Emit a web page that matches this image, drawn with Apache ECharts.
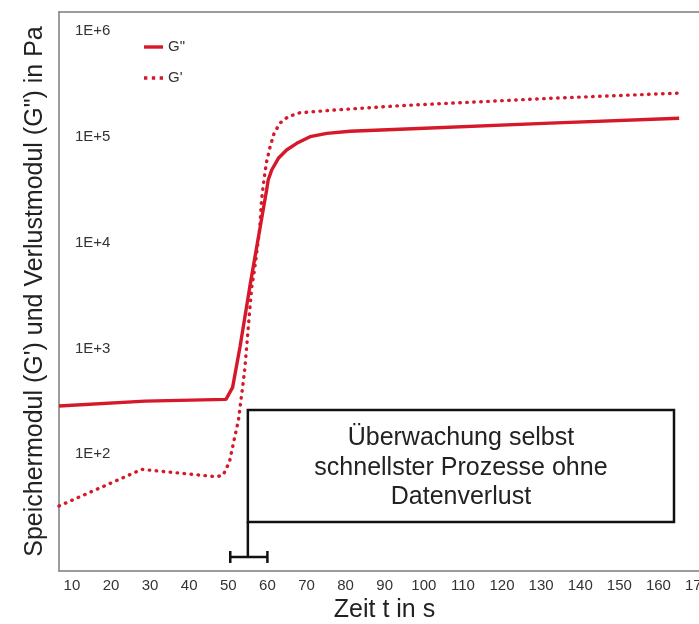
<!DOCTYPE html>
<html><head><meta charset="utf-8">
<script src="https://cdn.jsdelivr.net/npm/echarts@6/dist/echarts.min.js"></script>
<style>html,body{margin:0;padding:0;background:#fff}#c{width:699px;height:624px}</style>
</head><body><div id="c"></div>
<script>
// ---- data ----
const seriesNames = ['G"', "G'"];
// Verlustmodul G" (solid)
const timeLoss = [6.7, 28.7, 49.4, 51.1, 53.0, 55.5, 59.8, 60.2, 61.1, 62.8, 64.9, 67.5, 70.9, 75.2, 81.1, 93.9, 132.3, 165.3];
const gLoss    = [286, 318, 330, 429, 1038, 3830, 31300, 38900, 48400, 62400, 74700, 86400, 99800, 107400, 112200, 117500, 134000, 149000];
// Speichermodul G' (dotted)
const timeStorage = [6.7, 27.9, 47.0, 48.7, 49.2, 50.3, 51.3, 52.6, 53.4, 54.1, 54.7, 55.4, 56.0, 56.7, 58.0, 58.5, 59.1, 59.8, 60.7, 61.7, 63.2, 65.3, 68.3, 76.9, 93.9, 132.3, 165.7];
const gStorage    = [32.5, 72.1, 61.4, 63.7, 66.2, 85, 127, 211, 363, 582, 1037, 2140, 3830, 5500, 13100, 25200, 38900, 58000, 80300, 107000, 134000, 154000, 168000, 178000, 196000, 230000, 258000];
const xTickLabels = [10, 20, 30, 40, 50, 60, 70, 80, 90, 100, 110, 120, 130, 140, 150, 160, 170];
const yTickExponents = [2, 3, 4, 5, 6];
const noteLines = ['Überwachung selbst', 'schnellster Prozesse ohne', 'Datenverlust'];
const bracketRange = [50.5, 60];   // s
const bracketStem = 55;            // s

// ---- chart ----
const FONT = "'Liberation Sans', Arial, sans-serif";
const RED = '#d6182b';
const AXIS = '#7c7c7c';
const X_MIN = 6.7, X_MAX = 170.38;
const chart = echarts.init(document.getElementById('c'), null, {renderer: 'canvas'});

const zip = (xs, ys) => xs.map((x, i) => [x, ys[i]]);
const dotIcon = 'path://M0,0h3v3h-3z M7,0h3v3h-3z M14,0h3v3h-3z';

chart.setOption({
  animation: false,
  backgroundColor: '#fff',
  grid: {left: 59, top: 12, right: 0, bottom: 53, containLabel: false, outerBoundsMode: 'none'},
  legend: {
    left: 144, top: 39, padding: 0, orient: 'vertical', itemWidth: 19, itemHeight: 3.4, itemGap: 15,
    textStyle: {fontFamily: FONT, fontSize: 15, color: '#333', lineHeight: 16},
    data: [{name: seriesNames[0], icon: 'rect'}, {name: seriesNames[1], icon: dotIcon}]
  },
  xAxis: [{
    type: 'value', min: X_MIN, max: X_MAX, position: 'bottom',
    axisLine: {show: true, lineStyle: {color: AXIS, width: 1.5}}, axisTick: {show: false}, splitLine: {show: false},
    axisLabel: {customValues: xTickLabels, fontFamily: FONT, fontSize: 15, color: '#333', margin: 7},
    name: 'Zeit t in s', nameLocation: 'middle', nameGap: 20,
    nameTextStyle: {fontFamily: FONT, fontSize: 25, color: '#222', padding: [0, 0, 0, 11]}
  }, {
    type: 'value', min: X_MIN, max: X_MAX, position: 'top',
    axisLine: {show: true, onZero: false, lineStyle: {color: AXIS, width: 1.5}},
    axisTick: {show: false}, axisLabel: {show: false}, splitLine: {show: false}
  }],
  yAxis: {
    type: 'log', logBase: 10, min: 7.91, max: 1.502e6,
    axisLine: {show: true, onZero: false, lineStyle: {color: AXIS, width: 1.5}},
    axisTick: {show: false}, splitLine: {show: false}, minorSplitLine: {show: false},
    axisLabel: {
      inside: true, margin: 16, fontFamily: FONT, fontSize: 15, color: '#333',
      showMinLabel: false, showMaxLabel: false,
      formatter: v => {
        const e = Math.log10(v), r = Math.round(e);
        return (Math.abs(e - r) < 1e-6 && yTickExponents.includes(r)) ? '1E+' + r : '';
      }
    },
    name: "Speichermodul (G') und Verlustmodul (G\") in Pa", nameLocation: 'middle', nameGap: 11, nameRotate: 90,
    nameTextStyle: {fontFamily: FONT, fontSize: 25, color: '#222'}
  },
  series: [
    {name: seriesNames[0], type: 'line', xAxisIndex: 0, symbol: 'none', data: zip(timeLoss, gLoss), color: RED,
     lineStyle: {width: 3.4, color: RED}, z: 3},
    {name: seriesNames[1], type: 'line', xAxisIndex: 0, symbol: 'none', data: zip(timeStorage, gStorage), color: RED,
     lineStyle: {width: 3.4, color: RED, type: [0.5, 6.5], cap: 'round'}, z: 2}
  ]
});

// ---- annotation: box + bracket marking 50–60 s ----
const px = t => chart.convertToPixel({xAxisIndex: 0}, t);
const stemX = px(bracketStem), bx0 = px(bracketRange[0]), bx1 = px(bracketRange[1]);
const boxTop = 410, boxBottom = 522, boxRight = 674, bracketY = 557;
chart.setOption({
  graphic: [
    {type: 'rect', shape: {x: stemX, y: boxTop, width: boxRight - stemX, height: boxBottom - boxTop},
     style: {fill: '#fff', stroke: '#111', lineWidth: 2.5}, z: 10},
    {type: 'text', x: (stemX + boxRight) / 2, y: (boxTop + boxBottom) / 2 + 2,
     style: {text: noteLines.join('\n'), fontFamily: FONT, fontSize: 25, fill: '#222', align: 'center', verticalAlign: 'middle', lineHeight: 29.5}, z: 11},
    {type: 'line', shape: {x1: stemX, y1: boxBottom, x2: stemX, y2: bracketY}, style: {stroke: '#111', lineWidth: 2.5}, z: 10},
    {type: 'line', shape: {x1: bx0, y1: bracketY, x2: bx1, y2: bracketY}, style: {stroke: '#111', lineWidth: 2.5}, z: 10},
    {type: 'line', shape: {x1: bx0, y1: bracketY - 6, x2: bx0, y2: bracketY + 6}, style: {stroke: '#111', lineWidth: 2.5}, z: 10},
    {type: 'line', shape: {x1: bx1, y1: bracketY - 6, x2: bx1, y2: bracketY + 6}, style: {stroke: '#111', lineWidth: 2.5}, z: 10}
  ]
});
</script>
</body></html>
